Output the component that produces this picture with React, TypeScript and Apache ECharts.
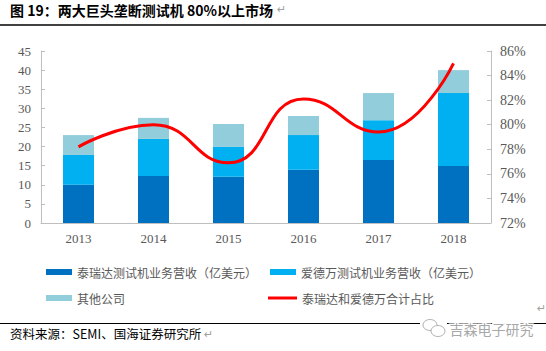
import React, { useEffect, useRef } from "react";
import * as echarts from "echarts";

const categories = ["2013", "2014", "2015", "2016", "2017", "2018"];
const teradyne = [10.0, 12.3, 12.1, 13.9, 16.5, 14.9];
const advantest = [7.8, 9.7, 7.8, 9.1, 10.4, 19.1];
const others = [5.2, 5.5, 6.0, 5.0, 7.1, 6.0];
const combinedShare = [78.2, 80.0, 76.9, 82.1, 79.4, 85.0];

const seriesNames = [
  "泰瑞达测试机业务营收（亿美元）",
  "爱德万测试机业务营收（亿美元）",
  "其他公司",
  "泰瑞达和爱德万合计占比",
];

const titleText = "图 19：两大巨头垄断测试机 80%以上市场";
const sourceText = "资料来源：SEMI、国海证券研究所";
const watermarkText = "吉森电子研究";

export default function App() {
  const ref = useRef<HTMLDivElement>(null);
  useEffect(() => {
    if (!ref.current) return;
    const chart = echarts.init(ref.current, undefined, { renderer: "svg" });
    const cjk = "'Noto Sans CJK SC', 'Noto Sans', sans-serif";
    const serif = "'Liberation Serif', 'DejaVu Serif', serif";
    const axisColor = "#bfbfbf";
    const labelColor = "#595959";
    const legendBase = {
      orient: "horizontal",
      itemWidth: 26,
      itemHeight: 6,
      textStyle: { fontFamily: cjk, fontSize: 12, color: labelColor },
      selectedMode: false,
    };
    chart.setOption({
      animation: false,
      backgroundColor: "#ffffff",
      grid: { left: 41, right: 55, top: 51, bottom: 128, containLabel: false },
      legend: [
        { ...legendBase, data: [{ name: seriesNames[0], icon: "rect" }], left: 41, top: 261 },
        { ...legendBase, data: [{ name: seriesNames[1], icon: "rect" }], left: 265, top: 261 },
        { ...legendBase, data: [{ name: seriesNames[2], icon: "rect" }], left: 41, top: 287 },
        { ...legendBase, itemWidth: 29, itemHeight: 3, data: [{ name: seriesNames[3], icon: "rect" }], left: 263, top: 287 },
      ],
      xAxis: {
        type: "category",
        data: categories,
        axisLine: { show: true, lineStyle: { color: axisColor, width: 1 } },
        axisTick: { show: false },
        axisLabel: { fontFamily: serif, fontSize: 13, color: labelColor, margin: 9 },
      },
      yAxis: [
        {
          type: "value",
          min: 0,
          max: 45,
          interval: 5,
          splitLine: { show: false },
          axisLine: { show: true, lineStyle: { color: axisColor } },
          axisTick: { show: true, inside: true, length: 4, lineStyle: { color: axisColor } },
          axisLabel: { fontFamily: serif, fontSize: 13, color: labelColor, margin: 10 },
        },
        {
          type: "value",
          min: 72,
          max: 86,
          interval: 2,
          position: "right",
          splitLine: { show: false },
          axisLine: { show: true, lineStyle: { color: axisColor } },
          axisTick: { show: true, inside: true, length: 4, lineStyle: { color: axisColor } },
          axisLabel: { fontFamily: serif, fontSize: 14, color: labelColor, margin: 9, formatter: "{value}%" },
        },
      ],
      series: [
        { name: seriesNames[0], type: "bar", stack: "total", data: teradyne, barWidth: 31, itemStyle: { color: "#0070c0" } },
        { name: seriesNames[1], type: "bar", stack: "total", data: advantest, barWidth: 31, itemStyle: { color: "#00b0f0" } },
        { name: seriesNames[2], type: "bar", stack: "total", data: others, barWidth: 31, itemStyle: { color: "#92cddc" } },
        {
          name: seriesNames[3],
          type: "line",
          yAxisIndex: 1,
          data: combinedShare,
          smooth: 0.5,
          showSymbol: false,
          symbol: "none",
          lineStyle: { color: "#ff0000", width: 3 },
          itemStyle: { color: "#ff0000" },
          z: 5,
        },
      ],
      graphic: [
        {
          type: "text",
          left: 10,
          top: 3,
          style: { text: titleText, font: `bold 14px ${cjk}`, fill: "#000000" },
        },
        {
          type: "text",
          left: 277,
          top: 4,
          style: { text: "↵", font: "11px 'DejaVu Sans'", fill: "#a0a0a0" },
        },
        {
          type: "line",
          shape: { x1: 0, y1: 25, x2: 546, y2: 25 },
          style: { stroke: "#000000", lineWidth: 1.5 },
        },
        {
          type: "line",
          shape: { x1: 0, y1: 323.5, x2: 546, y2: 323.5 },
          style: { stroke: "#000000", lineWidth: 1 },
        },
        {
          type: "text",
          left: 537,
          top: 303,
          style: { text: "↵", font: "11px 'DejaVu Sans'", fill: "#a0a0a0" },
        },
        {
          type: "rect",
          shape: { x: 420, y: 318, width: 27, height: 20 },
          style: { fill: "#ffffff" },
        },
        {
          type: "ellipse",
          shape: { cx: 430, cy: 325, rx: 7, ry: 5.5 },
          style: { fill: "#ffffff", stroke: "#b0b0b0", lineWidth: 1 },
        },
        {
          type: "ellipse",
          shape: { cx: 438, cy: 331, rx: 7, ry: 5.5 },
          style: { fill: "#ffffff", stroke: "#b0b0b0", lineWidth: 1 },
        },
        {
          type: "text",
          left: 448,
          top: 320,
          style: {
            text: watermarkText,
            font: `14px ${cjk}`,
            fill: "#a8a8a8",
            stroke: "#ffffff",
            lineWidth: 3,
          },
        },
        {
          type: "text",
          left: 10,
          top: 327,
          style: { text: sourceText, font: `12.5px ${cjk}`, fill: "#000000" },
        },
        {
          type: "text",
          left: 204,
          top: 329,
          style: { text: "↵", font: "11px 'DejaVu Sans'", fill: "#a0a0a0" },
        },
      ],
    });
    return () => chart.dispose();
  }, []);
  return (
    <div
      ref={ref}
      style={{ position: "fixed", left: 0, top: 0, width: 546, height: 351, background: "#fff" }}
    />
  );
}
